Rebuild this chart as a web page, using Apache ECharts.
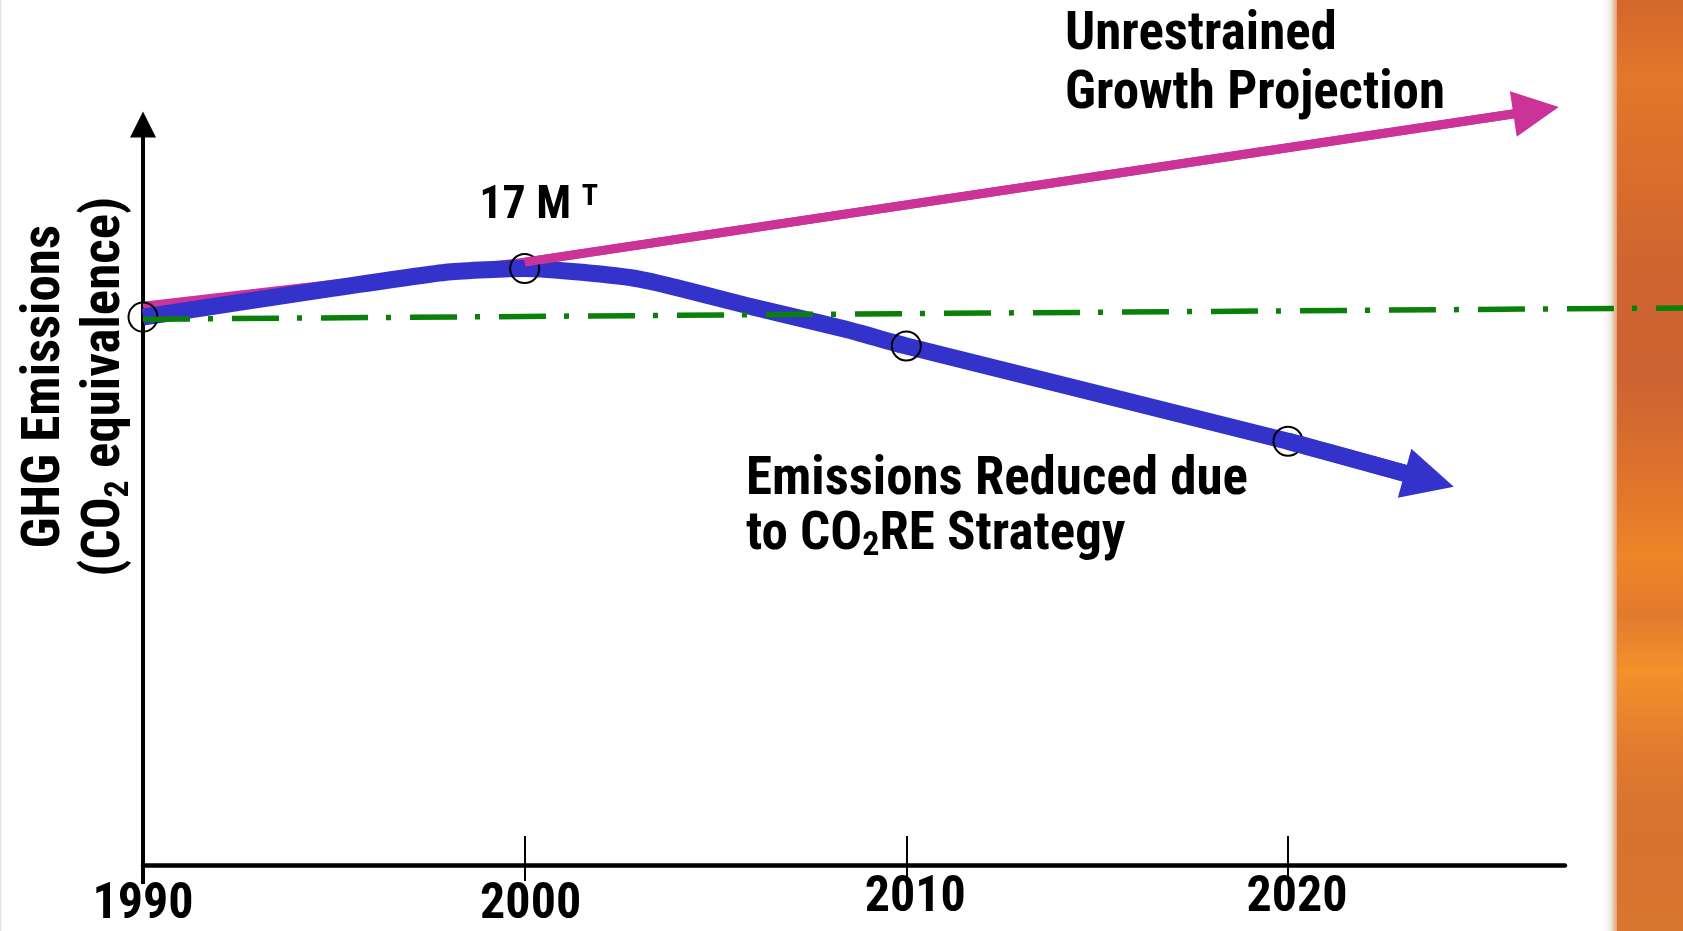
<!DOCTYPE html>
<html>
<head>
<meta charset="utf-8">
<script src="https://cdn.jsdelivr.net/npm/echarts@6/dist/echarts.min.js"></script>
<style>html,body{margin:0;padding:0;background:#fff;}#main{width:1683px;height:931px;}</style>
</head>
<body>
<div id="main"></div>
<script>
// ---- data (arbitrary emission units, x in years) ----
const tickYears = [1990, 2000, 2010, 2020];
const reducedYears  = [1990, 1995, 1998, 2000, 2003, 2006, 2008.4, 2010, 2020, 2023.7];
const reducedValues = [15.54, 16.36, 16.82, 16.92, 16.62, 15.82, 15.20, 14.72, 12.02, 10.92];
const milestoneYears = [1990, 2000, 2010, 2020];
const unrestrainedYears  = [1990, 2000, 2026.5];
const unrestrainedValues = [15.85, 17.10, 21.40];
const baselineYears  = [1990, 2030.35];
const baselineValues = [15.48, 15.80];
const peakYear = 2000;
const peakLabel = '17 M';
const peakLabelSup = 'T';

const FONT = '"Roboto Condensed","Liberation Sans",Arial,sans-serif';

const chart = echarts.init(document.getElementById('main'), null, {renderer:'canvas'});

const reducedData = reducedYears.map((y,i)=>{
  const item = {value:[y, reducedValues[i]]};
  if (milestoneYears.indexOf(y) < 0) item.symbol = 'none';
  if (y === peakYear) item.label = {
    show:true, position:'top', distance:22, offset:[14,0],
    formatter: peakLabel + ' {sup|' + peakLabelSup + '}',
    fontFamily: FONT, fontWeight:'bold', fontSize:46, color:'#000',
    rich:{sup:{fontFamily:FONT, fontWeight:'bold', fontSize:30, color:'#000', verticalAlign:'top', padding:[0,0,18,0]}}
  };
  return item;
});
const n = reducedYears.length;
const m = unrestrainedYears.length;

const option = {
  animation:false,
  backgroundColor:'#ffffff',
  grid:[
    {left:143, top:124.5, right:118, bottom:66, outerBoundsMode:'none', containLabel:false},
    {left:143, top:107, right:0, bottom:66, outerBoundsMode:'none', containLabel:false}
  ],
  xAxis:[
    {type:'value', gridIndex:0, min:1990, max:2027.26, position:'bottom',
     axisLine:{show:true, lineStyle:{color:'#000', width:4.5}},
     axisTick:{show:true, inside:true, length:29, lineStyle:{color:'#000', width:2}, customValues:[2000,2010,2020]},
     splitLine:{show:false},
     axisLabel:{show:true, customValues: tickYears, margin:8, hideOverlap:false,
       formatter: v => v===1990 ? '{a|'+v+'}' : (v===2000 ? '{b|'+v+'}' : '{c|'+v+'}'),
       rich:{
         a:{fontFamily:FONT, fontWeight:'bold', fontSize:50, lineHeight:50, color:'#000', padding:[15,0,0,0]},
         b:{fontFamily:FONT, fontWeight:'bold', fontSize:50, lineHeight:50, color:'#000', padding:[15,0,0,12]},
         c:{fontFamily:FONT, fontWeight:'bold', fontSize:50, lineHeight:50, color:'#000', padding:[0,0,0,18]}
       }}},
    {type:'value', gridIndex:0, min:1990, max:2027.26, position:'bottom',
     axisLine:{show:false}, splitLine:{show:false}, axisLabel:{show:false},
     axisTick:{show:true, inside:false, length:16, lineStyle:{color:'#000', width:2}, customValues:[2000,2010,2020]}},
    {type:'value', gridIndex:0, min:1990, max:2027.26, position:'bottom',
     axisLine:{show:false}, splitLine:{show:false}, axisLabel:{show:false},
     axisTick:{show:true, inside:false, length:19, lineStyle:{color:'#000', width:4}, customValues:[1990]}},
    {type:'value', gridIndex:1, min:1990, max:2030.35, show:false}
  ],
  yAxis:[
    {type:'value', gridIndex:0, min:0, max:21,
     axisLine:{show:true, symbol:['none','triangle'], symbolSize:[26,26], lineStyle:{color:'#000', width:4}},
     axisTick:{show:false}, axisLabel:{show:false}, splitLine:{show:false},
     name:'{t|GHG Emissions}\n{t|(CO}{s|2}{t| equivalence)}',
     nameLocation:'middle', nameRotate:90, nameGap:7,
     nameTextStyle:{padding:[0,0,0,216], lineHeight:60,
       rich:{
         t:{fontFamily:FONT, fontWeight:'bold', fontSize:53, color:'#000', lineHeight:60},
         s:{fontFamily:FONT, fontWeight:'bold', fontSize:34, color:'#000', lineHeight:60, verticalAlign:'bottom'}
       }}},
    {type:'value', gridIndex:1, min:0, max:21.5, show:false}
  ],
  graphic:[
    {type:'rect', left:0, top:0, shape:{width:1.5, height:931}, silent:true, z:-10, style:{fill:'#e4e4e4'}},
    {type:'rect', left:1603, top:0, shape:{width:16, height:931}, silent:true, z:-10,
     style:{fill:new echarts.graphic.LinearGradient(0,0,1,0,[{offset:0,color:'rgba(255,255,255,1)'},{offset:0.45,color:'#f1ede9'},{offset:1,color:'#dc8a4c'}])}},
    {type:'rect', left:1617, top:0, shape:{width:66, height:931}, silent:true, z:-10,
     style:{fill:new echarts.graphic.LinearGradient(0,0,0,1,[
       {offset:0,color:'#d2672c'},{offset:0.08,color:'#e3772a'},{offset:0.16,color:'#dc702b'},
       {offset:0.28,color:'#d06530'},{offset:0.40,color:'#cb6231'},{offset:0.50,color:'#dc712d'},
       {offset:0.60,color:'#ee8527'},{offset:0.66,color:'#e27a2e'},{offset:0.72,color:'#f3912a'},
       {offset:0.80,color:'#e27c2f'},{offset:0.88,color:'#d7722f'},{offset:1,color:'#d8752e'}])}},
    {type:'text', left:1065, top:6, z:10,
     style:{text:'Unrestrained\nGrowth Projection', fontFamily:FONT, fontWeight:'bold', fontSize:53, lineHeight:59, fill:'#000'}},
    {type:'text', left:746, top:453, z:10,
     style:{text:'Emissions Reduced due\nto CO{s|2}RE Strategy', fontFamily:FONT, fontWeight:'bold', fontSize:53, lineHeight:55, fill:'#000',
       rich:{s:{fontFamily:FONT, fontWeight:'bold', fontSize:34, fill:'#000', lineHeight:55, verticalAlign:'bottom'}}}}
  ],
  series:[
    {name:'Unrestrained Growth Projection', type:'line', xAxisIndex:3, yAxisIndex:1, z:2,
     data: unrestrainedYears.map((y,i)=>[y, unrestrainedValues[i]]),
     symbol:'none', lineStyle:{color:'#cc3399', width:9, cap:'butt'}, clip:false,
     markLine:{silent:true, symbol:['none','triangle'], symbolSize:46, label:{show:false},
       lineStyle:{color:'#cc3399', width:9, type:'solid'}, emphasis:{disabled:true},
       data:[[{coord:[unrestrainedYears[m-2], unrestrainedValues[m-2]]},{coord:[unrestrainedYears[m-1], unrestrainedValues[m-1]]}]]}},
    {name:'Emissions Reduced due to CO2RE Strategy', type:'line', xAxisIndex:3, yAxisIndex:1, z:3,
     data: reducedData, smooth:0.2,
     symbol:'circle', symbolSize:29, showAllSymbol:true,
     itemStyle:{color:'rgba(0,0,0,0)', borderColor:'#000', borderWidth:2},
     lineStyle:{color:'#3333cc', width:17, cap:'butt', join:'round'}, clip:false,
     markLine:{silent:true, symbol:['none','triangle'], symbolSize:51, label:{show:false},
       lineStyle:{color:'#3333cc', width:17, type:'solid'}, emphasis:{disabled:true},
       data:[[{coord:[reducedYears[n-2], reducedValues[n-2]]},{coord:[reducedYears[n-1], reducedValues[n-1]]}]]}},
    {name:'1990 level', type:'line', xAxisIndex:3, yAxisIndex:1, z:4,
     data: baselineYears.map((y,i)=>[y, baselineValues[i]]),
     symbol:'none', lineStyle:{color:'#0a800a', width:5.5, type:[47,18,5,19], cap:'butt'}, clip:false}
  ]
};
chart.setOption(option);
</script>
</body>
</html>
